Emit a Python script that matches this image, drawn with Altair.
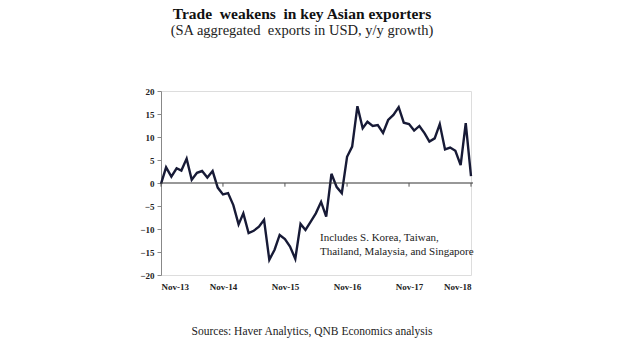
import altair as alt
import pandas as pd

months = pd.date_range("2013-11-01", "2018-11-01", freq="MS").strftime("%Y-%m-%d").tolist()
growth = [-0.2, 3.4, 1.4, 3.2, 2.7, 5.3, 0.7, 2.2, 2.6, 1.2, 2.6, -1.0,
          -2.5, -2.2, -4.8, -9.0, -6.6, -10.9, -10.4, -9.5, -8.0, -16.7, -14.5, -11.3,
          -12.2, -13.8, -16.5, -8.9, -10.2, -8.4, -6.6, -4.1, -7.3, 2.0, -0.9, -2.2,
          5.7, 7.9, 16.7, 11.9, 13.3, 12.4, 12.6, 10.9, 13.7, 14.8, 16.5, 13.1,
          12.8, 11.4, 12.4, 10.8, 9.0, 9.7, 12.8, 7.3, 7.7, 7.0, 3.9, 13.0,
          1.5]
tick_dates = ["2013-11-01", "2014-11-01", "2015-11-01", "2016-11-01", "2017-11-01", "2018-11-01"]
y_ticks = [-20, -15, -10, -5, 0, 5, 10, 15, 20]
note_lines = ["Includes S. Korea, Taiwan,", "Thailand, Malaysia, and Singapore"]
source_text = "Sources: Haver Analytics, QNB Economics analysis"

df = pd.DataFrame({"month": months, "growth": growth})
ticks_df = pd.DataFrame({"month": tick_dates, "y0": [0] * len(tick_dates), "y1": [-0.8] * len(tick_dates)})

FONT = "Liberation Serif"
xscale = alt.Scale(domain=["2013-11-01", "2018-11-01"])
yscale = alt.Scale(domain=[-20, 20], nice=False)
xaxis = alt.Axis(values=tick_dates, format="%b-%y", title=None, domain=False, ticks=False,
                 grid=False, labelFont=FONT, labelFontWeight="bold", labelFontSize=9,
                 labelColor="#222", labelPadding=7, labelOverlap=False)
yaxis = alt.Axis(values=y_ticks, title=None, grid=False, domainColor="#888", tickColor="#888",
                 tickSize=4, labelFont=FONT, labelFontWeight="bold", labelFontSize=9,
                 labelColor="#222", labelPadding=3, labelOverlap=False)

line = alt.Chart(df).mark_line(color="#171a36", strokeWidth=2.4).encode(
    x=alt.X("month:T", scale=xscale, axis=xaxis),
    y=alt.Y("growth:Q", scale=yscale, axis=yaxis),
)

zero = alt.Chart(pd.DataFrame({"y": [0]})).mark_rule(color="#333", strokeWidth=1.2).encode(
    y=alt.Y("y:Q", scale=yscale, axis=yaxis), x=alt.value(0), x2=alt.value(312))

zticks = alt.Chart(ticks_df).mark_rule(color="#555", strokeWidth=1).encode(
    x=alt.X("month:T", scale=xscale, axis=xaxis),
    y=alt.Y("y0:Q", scale=yscale, axis=yaxis), y2="y1:Q")

note1 = alt.Chart(pd.DataFrame({"t": [note_lines[0]]})).mark_text(
    align="left", font=FONT, fontSize=11, color="#222").encode(
    x=alt.value(159), y=alt.value(147), text="t:N")
note2 = alt.Chart(pd.DataFrame({"t": [note_lines[1]]})).mark_text(
    align="left", font=FONT, fontSize=11, color="#222").encode(
    x=alt.value(159), y=alt.value(161), text="t:N")

source = alt.Chart(pd.DataFrame({"t": [source_text]})).mark_text(
    align="center", font=FONT, fontSize=11.5, color="#222").encode(
    x=alt.value(151), y=alt.value(241), text="t:N")

chart = alt.layer(line, zero, zticks, note1, note2, source).properties(
    width=310, height=184,
    autosize=alt.AutoSizeParams(type="none"),
    padding={"left": 161, "top": 91, "right": 149, "bottom": 80},
    title=alt.TitleParams("Trade\u00a0 weakens\u00a0 in key Asian exporters",
                          subtitle="(SA aggregated\u00a0 exports in USD, y/y growth)",
                          font=FONT, fontSize=15.5, fontWeight="bold", color="#111",
                          subtitleFont=FONT, subtitleFontSize=14.5, subtitleColor="#222",
                          anchor="middle", dx=-14, offset=50, subtitlePadding=1),
).configure_view(stroke="transparent", strokeWidth=0).configure(background="white")

chart.save("out.html", embed_options={"renderer": "svg", "actions": False})
